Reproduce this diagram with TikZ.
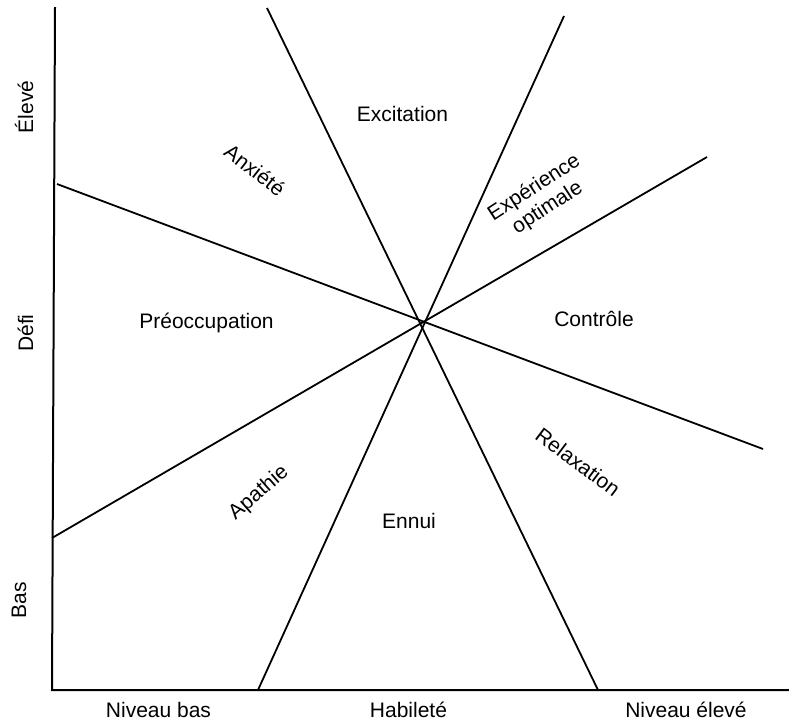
\documentclass[tikz,border=0pt]{standalone}
\usepackage{fontspec}
\setmainfont{Liberation Sans}
\begin{document}
\begin{tikzpicture}[x=1pt,y=-1pt,
  axisline/.style={line width=2pt,line cap=rect},
  divline/.style={line width=1.8pt},
  lbl/.style={font=\fontsize{21}{24}\selectfont,inner sep=0pt},
  baselbl/.style={lbl,anchor=base}]
\useasboundingbox (0,0) rectangle (789,721);
% axes
\coordinate (ytop) at (55,8);
\coordinate (orig) at (52,690);
\coordinate (xend) at (789,690);
\draw[axisline] (ytop) -- (orig) -- (xend);
% dividing lines
\coordinate (a1) at (267,8);   \coordinate (a2) at (598,690);
\coordinate (b1) at (564,16);  \coordinate (b2) at (258,690);
\coordinate (c1) at (57,184);  \coordinate (c2) at (763,449);
\coordinate (d1) at (707,157); \coordinate (d2) at (52,538);
\draw[divline] (a1) -- (a2);
\draw[divline] (b1) -- (b2);
\draw[divline] (c1) -- (c2);
\draw[divline] (d1) -- (d2);
% axis labels
\node[baselbl,rotate=90] (eleve) at (33,107) {Élevé};
\node[baselbl,rotate=90] (defi) at (33,333) {Défi};
\node[baselbl,rotate=90] (bas) at (26,600) {Bas};
\node[baselbl] (nbas) at (158.5,717) {Niveau bas};
\node[baselbl] (hab) at (408.5,717) {Habileté};
\node[baselbl] (neleve) at (686,717) {Niveau élevé};
% region labels
\node[baselbl] (excit) at (402.5,121) {Excitation};
\node[baselbl] (preoc) at (206.5,328) {Préoccupation};
\node[baselbl] (ctrl) at (594,326) {Contrôle};
\node[baselbl] (ennui) at (409,528) {Ennui};
\node[lbl,rotate=-38] (anx) at (255,170) {Anxiété};
\node[lbl,rotate=33,align=center] (exp) at (541,198) {Expérience\\optimale};
\node[lbl,rotate=-37] (relax) at (578,462) {Relaxation};
\node[lbl,rotate=41] (apath) at (259,493) {Apathie};
\end{tikzpicture}
\end{document}
